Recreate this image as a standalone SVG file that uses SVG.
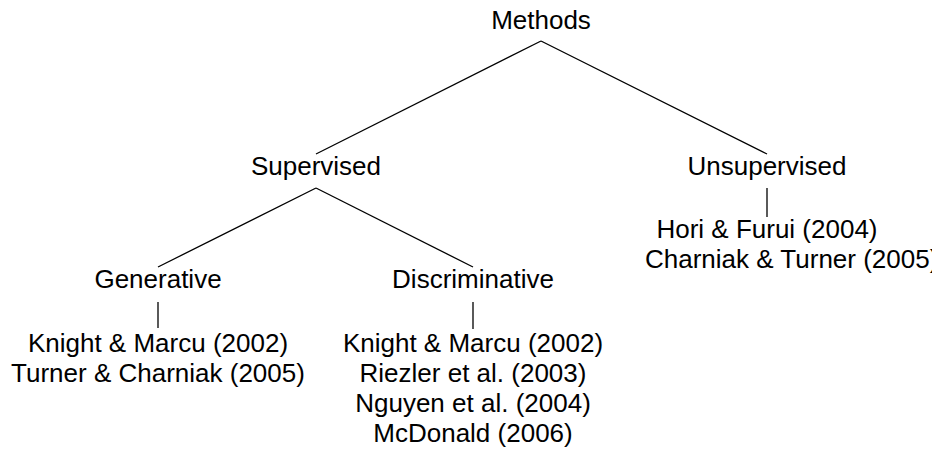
<svg xmlns="http://www.w3.org/2000/svg" width="932" height="450" viewBox="0 0 932 450">
<style>
text{font-family:"Liberation Sans",Arial,sans-serif;font-size:26px;fill:#000;text-anchor:middle}
.e line{stroke:#000;stroke-width:1.3;fill:none}
</style>
<rect width="932" height="450" fill="#fff"/>
<g class="e" id="connectors">
<line x1="541" y1="41" x2="316" y2="154"/>
<line x1="541" y1="41" x2="767" y2="154"/>
<line x1="316" y1="188" x2="158" y2="267"/>
<line x1="316" y1="188" x2="473" y2="267"/>
<line x1="158" y1="302" x2="158" y2="328"/>
<line x1="473" y1="302" x2="473" y2="329"/>
<line x1="767" y1="188" x2="767" y2="217"/>
</g>
<g id="methods"><text x="541" y="29">Methods</text></g>
<g id="supervised"><text x="316" y="175">Supervised</text></g>
<g id="unsupervised"><text x="767" y="175">Unsupervised</text></g>
<g id="generative"><text x="158" y="288">Generative</text></g>
<g id="discriminative"><text x="473" y="288">Discriminative</text></g>
<g id="gen-refs"><text x="158" y="352">Knight &amp; Marcu (2002)</text><text x="158" y="382">Turner &amp; Charniak (2005)</text></g>
<g id="disc-refs"><text x="473" y="352">Knight &amp; Marcu (2002)</text><text x="473" y="382">Riezler et al. (2003)</text><text x="473" y="412">Nguyen et al. (2004)</text><text x="473" y="442">McDonald (2006)</text></g>
<g id="unsup-refs"><text x="767" y="238">Hori &amp; Furui (2004)</text><text x="645" y="268" style="text-anchor:start">Charniak &amp; Turner (2005)</text></g>
</svg>
